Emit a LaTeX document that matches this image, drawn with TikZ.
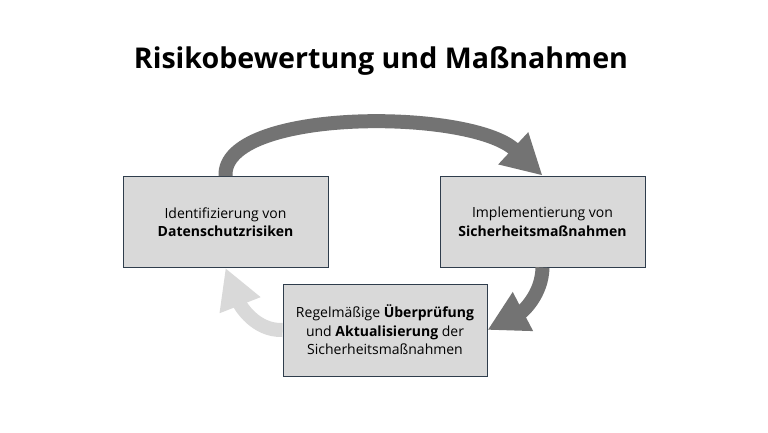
\documentclass[tikz,border=0pt]{standalone}
\usepackage{fontspec}
\setmainfont{Open Sans}
\usetikzlibrary{arrows.meta}
\definecolor{boxfill}{HTML}{D9D9D9}
\definecolor{boxline}{HTML}{2F3D4C}
\definecolor{darkarrow}{HTML}{737373}
\definecolor{lightarrow}{HTML}{D9D9D9}
\tikzset{
  stepbox/.style={draw=boxline, line width=0.9pt, fill=boxfill, minimum width=205pt, minimum height=91pt, align=center, inner sep=0pt, font=\fontsize{14}{18.5}\selectfont},
  bigarrow/.style={line width=14pt, -{Triangle[length=40pt,width=41pt]}},
}
\begin{document}
\begin{tikzpicture}[x=1pt,y=-1pt]
\useasboundingbox[fill=white] (0,0) rectangle (768,432);
\node[font=\fontsize{28.6}{34}\selectfont\bfseries, anchor=base] (title) at (381,68) {Risikobewertung und Maßnahmen};
\node[stepbox] (ident) at (225.5,222) {Identifizierung von\\\textbf{Datenschutzrisiken}};
\node[stepbox] (impl) at (542.5,221.5) {Implementierung von\\\textbf{Sicherheitsmaßnahmen}};
\node[stepbox, minimum width=204pt, minimum height=92pt] (review) at (385,330) {Regelmäßige \textbf{Überprüfung}\\und \textbf{Aktualisierung} der\\Sicherheitsmaßnahmen};
\draw[bigarrow, darkarrow] (ident.north) .. controls (222,108) and (470,108) .. (impl.north);
\draw[bigarrow, darkarrow] (impl.south) .. controls (542,295) and (522,312) .. (review.east);
\draw[bigarrow, lightarrow] (review.west) .. controls (255,331) and (240,305) .. (ident.south);
\end{tikzpicture}
\end{document}
